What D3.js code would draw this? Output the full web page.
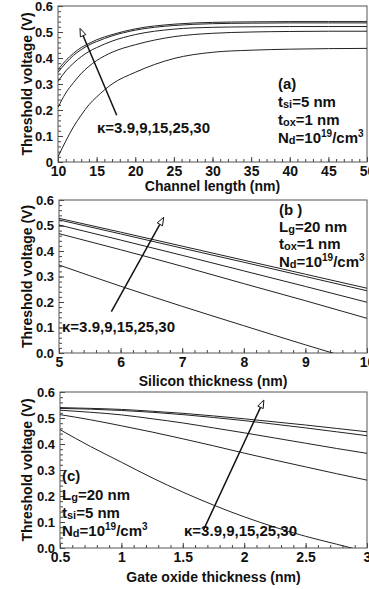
<!DOCTYPE html>
<html>
<head>
<meta charset="utf-8">
<script src="https://cdn.jsdelivr.net/npm/d3@7"></script>
<style>
    html, body { margin: 0; padding: 0; background: #fff; }
    svg { display: block; font-family: 'Liberation Sans', Arial, sans-serif; font-weight: bold; }
</style>
</head>
<body>
<svg id="chart"></svg>
<script>
// Series order in every panel: kappa = 3.9, 9, 15, 25, 30
const kappaLabel = 'κ=3.9,9,15,25,30';

// (a) threshold voltage vs channel length
const channelLength = [10, 11, 12, 13, 14, 15, 17, 20, 25, 30, 35, 40, 45, 50];
const vthByLength = [
    [0.02, 0.08, 0.135, 0.18, 0.22, 0.25, 0.30, 0.345, 0.398, 0.422, 0.430, 0.434, 0.436, 0.437],
    [0.21, 0.265, 0.305, 0.34, 0.368, 0.39, 0.422, 0.451, 0.482, 0.495, 0.500, 0.502, 0.503, 0.503],
    [0.31, 0.35, 0.38, 0.405, 0.425, 0.44, 0.465, 0.49, 0.511, 0.518, 0.520, 0.521, 0.521, 0.521],
    [0.345, 0.38, 0.41, 0.432, 0.45, 0.463, 0.485, 0.507, 0.525, 0.532, 0.534, 0.535, 0.535, 0.535],
    [0.355, 0.39, 0.418, 0.44, 0.456, 0.47, 0.49, 0.512, 0.530, 0.537, 0.539, 0.540, 0.540, 0.540],
];
const lengthTicks = [10, 15, 20, 25, 30, 35, 40, 45, 50];

// (b) threshold voltage vs silicon thickness
const siliconThickness = [5, 6, 7, 8, 9, 10];
const vthBySilicon = [
    [0.345, 0.262, 0.183, 0.107, 0.032, -0.04],
    [0.468, 0.405, 0.34, 0.272, 0.205, 0.136],
    [0.502, 0.443, 0.383, 0.322, 0.261, 0.199],
    [0.522, 0.467, 0.411, 0.356, 0.30, 0.244],
    [0.528, 0.474, 0.419, 0.364, 0.309, 0.254],
];
const siliconTicks = [5, 6, 7, 8, 9, 10];

// (c) threshold voltage vs gate oxide thickness
const oxideThickness = [0.5, 0.75, 1, 1.25, 1.5, 1.75, 2, 2.25, 2.5, 2.75, 3];
const vthByOxide = [
    [0.455, 0.39, 0.33, 0.27, 0.215, 0.165, 0.12, 0.08, 0.045, 0.015, -0.015],
    [0.513, 0.493, 0.47, 0.446, 0.42, 0.393, 0.365, 0.338, 0.312, 0.286, 0.261],
    [0.530, 0.522, 0.512, 0.497, 0.481, 0.462, 0.443, 0.423, 0.403, 0.383, 0.364],
    [0.537, 0.534, 0.529, 0.522, 0.513, 0.502, 0.49, 0.476, 0.462, 0.447, 0.432],
    [0.540, 0.537, 0.533, 0.526, 0.518, 0.508, 0.497, 0.485, 0.473, 0.460, 0.447],
];
const oxideTicks = [0.5, 1, 1.5, 2, 2.5, 3];
const oxideTickLabels = ['0.5', '1', '1.5', '2', '2.5', '3'];

const vthTicks = [0, 0.1, 0.2, 0.3, 0.4, 0.5, 0.6];
const vthTickLabelsA = ['0', '0.1', '0.2', '0.3', '0.4', '0.5', '0.6'];
const vthTickLabels = ['0.0', '0.1', '0.2', '0.3', '0.4', '0.5', '0.6'];

const W = 369, H = 589;
const svg = d3.select('#chart').attr('width', W).attr('height', H);
svg.append('rect').attr('width', W).attr('height', H).attr('fill', '#fff');

const n3 = [['N'], ['d', 'sub'], ['=10'], ['19', 'sup'], ['/cm'], ['3', 'sup']];

drawPanel({
    id: 'a', left: 58, right: 367, top: 6, bottom: 162, titleDy: 29,
    xs: channelLength, rows: vthByLength, xDomain: [10, 50],
    xTicks: lengthTicks, xTickLabels: lengthTicks.map(String), xMinor: d3.range(10, 50.01, 1),
    yTickLabels: vthTickLabelsA, xTitle: 'Channel length (nm)',
    arrow: { from: [17.6, 0.18], to: [12.85, 0.514] },
    notes: [
        { x: 97, y: 133, segs: [[kappaLabel]] },
        { x: 278, y: 89, segs: [['(a)']] },
        { x: 278, y: 107, segs: [['t'], ['si', 'sub'], ['=5 nm']] },
        { x: 278, y: 125, segs: [['t'], ['ox', 'sub'], ['=1 nm']] },
        { x: 278, y: 143, segs: n3 },
    ],
});

drawPanel({
    id: 'b', left: 59, right: 367, top: 200, bottom: 353, titleDy: 33,
    xs: siliconThickness, rows: vthBySilicon, xDomain: [5, 10],
    xTicks: siliconTicks, xTickLabels: siliconTicks.map(String), xMinor: d3.range(5, 10.01, 0.2),
    yTickLabels: vthTickLabels, xTitle: 'Silicon thickness (nm)',
    arrow: { from: [5.85, 0.162], to: [6.7, 0.532] },
    notes: [
        { x: 62, y: 332, segs: [[kappaLabel]] },
        { x: 279, y: 215, segs: [['(b )']] },
        { x: 279, y: 232, segs: [['L'], ['g', 'sub'], ['=20 nm']] },
        { x: 279, y: 249, segs: [['t'], ['ox', 'sub'], ['=1 nm']] },
        { x: 279, y: 267, segs: n3 },
    ],
});

drawPanel({
    id: 'c', left: 60, right: 367, top: 392, bottom: 548, titleDy: 34,
    xs: oxideThickness, rows: vthByOxide, xDomain: [0.5, 3],
    xTicks: oxideTicks, xTickLabels: oxideTickLabels, xMinor: d3.range(0.5, 3.001, 0.1),
    yTickLabels: vthTickLabels, xTitle: 'Gate oxide thickness (nm)',
    arrow: { from: [1.667, 0.068], to: [2.16, 0.569] },
    notes: [
        { x: 62, y: 481, segs: [['(c)']] },
        { x: 62, y: 500, segs: [['L'], ['g', 'sub'], ['=20 nm']] },
        { x: 62, y: 518, segs: [['t'], ['si', 'sub'], ['=5 nm']] },
        { x: 62, y: 536, segs: n3 },
        { x: 184, y: 536, segs: [[kappaLabel]] },
    ],
});

function drawPanel(p) {
    const x = d3.scaleLinear().domain(p.xDomain).range([p.left, p.right]);
    const y = d3.scaleLinear().domain([0, 0.6]).range([p.bottom, p.top]);
    const g = svg.append('g');

    svg.append('clipPath')
        .attr('id', 'clip-' + p.id)
        .append('rect')
        .attr('x', p.left)
        .attr('y', p.top)
        .attr('width', p.right - p.left)
        .attr('height', p.bottom - p.top);

    // Minor and major ticks, pointing inward.
    const styleAxis = size => sel => {
        sel.select('.domain').remove();
        sel.selectAll('line').attr('stroke', '#444');
        sel.selectAll('text').attr('font-size', size).attr('font-family', null).attr('fill', '#111');
    };
    g.append('g')
        .attr('transform', `translate(0, ${p.bottom})`)
        .call(d3.axisBottom(x).tickValues(p.xMinor).tickSize(-3).tickFormat(''))
        .call(styleAxis(14));
    g.append('g')
        .attr('transform', `translate(${p.left}, 0)`)
        .call(d3.axisLeft(y).tickValues(d3.range(0, 0.601, 0.02)).tickSize(-3).tickFormat(''))
        .call(styleAxis(13));
    g.append('g')
        .attr('transform', `translate(0, ${p.bottom})`)
        .call(d3.axisBottom(x).tickValues(p.xTicks).tickSize(-5).tickPadding(4)
            .tickFormat((d, i) => p.xTickLabels[i]))
        .call(styleAxis(14));
    g.append('g')
        .attr('transform', `translate(${p.left}, 0)`)
        .call(d3.axisLeft(y).tickValues(vthTicks).tickSize(-5).tickPadding(5)
            .tickFormat((d, i) => p.yTickLabels[i]))
        .call(styleAxis(13));

    // Frame.
    g.append('rect')
        .attr('x', p.left)
        .attr('y', p.top)
        .attr('width', p.right - p.left)
        .attr('height', p.bottom - p.top)
        .attr('fill', 'none')
        .attr('stroke', '#555')
        .attr('stroke-width', 1);

    // Curves.
    const line = d3
        .line()
        .x((d, i) => x(p.xs[i]))
        .y(d => y(d))
        .curve(d3.curveMonotoneX);
    g.append('g')
        .attr('clip-path', `url(#clip-${p.id})`)
        .selectAll('path')
        .data(p.rows)
        .join('path')
        .attr('d', line)
        .attr('fill', 'none')
        .attr('stroke', '#222')
        .attr('stroke-width', 1);

    // Axis titles.
    g.append('text')
        .attr('transform', `translate(32, ${(p.top + p.bottom) / 2}) rotate(-90)`)
        .attr('text-anchor', 'middle')
        .attr('font-size', 14)
        .attr('fill', '#111')
        .text('Threshold voltage (V)');
    g.append('text')
        .attr('x', (p.left + p.right) / 2)
        .attr('y', p.bottom + p.titleDy)
        .attr('text-anchor', 'middle')
        .attr('font-size', 14)
        .attr('fill', '#111')
        .text(p.xTitle);

    // Arrow with an open head.
    const x0 = x(p.arrow.from[0]), y0 = y(p.arrow.from[1]);
    const x1 = x(p.arrow.to[0]), y1 = y(p.arrow.to[1]);
    const ang = Math.atan2(y1 - y0, x1 - x0);
    const headLen = 8, headHalf = 3;
    const bx = x1 - headLen * Math.cos(ang), by = y1 - headLen * Math.sin(ang);
    g.append('line')
        .attr('x1', x0).attr('y1', y0)
        .attr('x2', bx).attr('y2', by)
        .attr('stroke', '#111')
        .attr('stroke-width', 1.5);
    g.append('path')
        .attr('d', d3.line()([
            [x1, y1],
            [bx - headHalf * Math.sin(ang), by + headHalf * Math.cos(ang)],
            [bx + headHalf * Math.sin(ang), by - headHalf * Math.cos(ang)],
        ]) + 'Z')
        .attr('fill', '#fff')
        .attr('stroke', '#111')
        .attr('stroke-width', 1);

    // Text notes.
    p.notes.forEach(n => {
        const t = g.append('text').attr('x', n.x).attr('y', n.y).attr('font-size', 15).attr('fill', '#111');
        let shift = 0;
        n.segs.forEach(([txt, kind]) => {
            const target = kind === 'sub' ? 1 : kind === 'sup' ? -6 : 0;
            t.append('tspan')
                .attr('dy', target - shift)
                .attr('font-size', kind === 'sub' ? 11 : kind === 'sup' ? 10 : null)
                .text(txt);
            shift = target;
        });
    });
}
</script>
</body>
</html>
